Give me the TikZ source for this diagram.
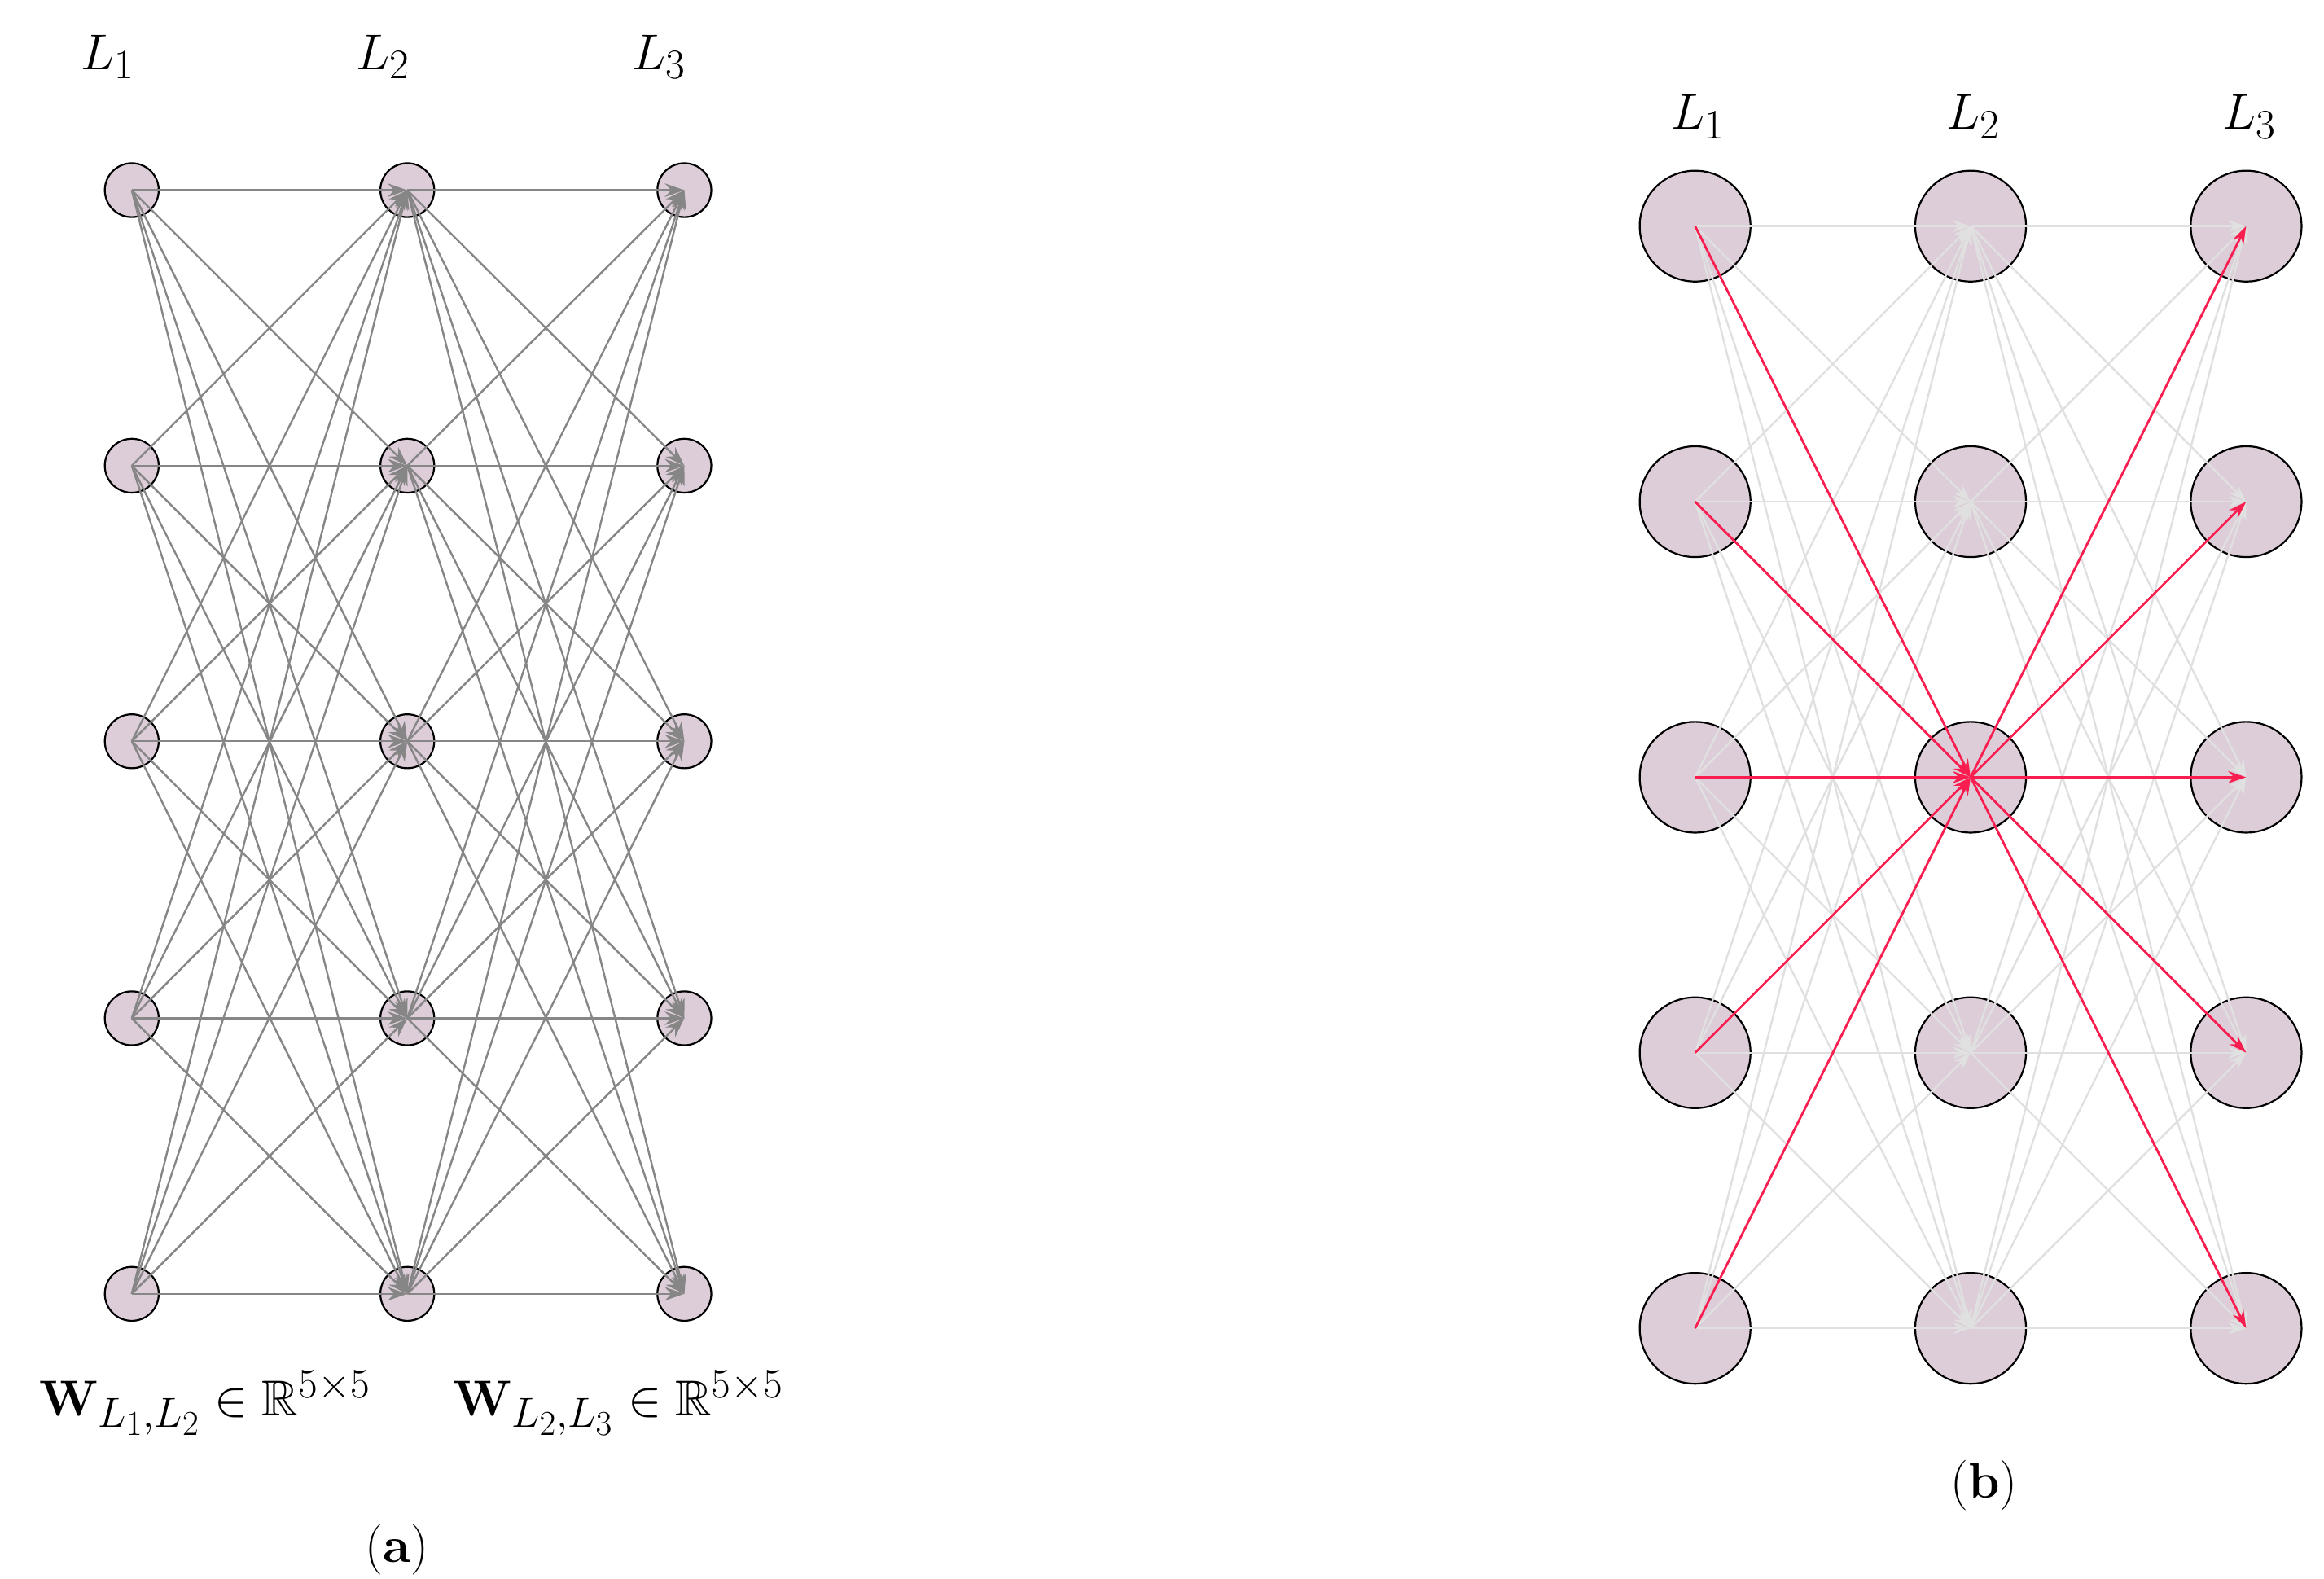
\documentclass[tikz,border=0pt]{standalone}
\usepackage{amsmath,amssymb}
\usetikzlibrary{arrows.meta}
\definecolor{nfill}{RGB}{220,205,216}
\definecolor{hot}{RGB}{250,30,80}
\begin{document}
\begin{tikzpicture}[x=1pt,y=-1pt,
  sn/.style={circle,draw=black,line width=1.2pt,fill=nfill,minimum size=36pt,inner sep=0pt},
  bn/.style={circle,draw=black,line width=1.2pt,fill=nfill,minimum size=74pt,inner sep=0pt},
  ga/.style={draw=gray!95,line width=1.3pt,-{Stealth[length=13pt,width=9pt]}},
  la/.style={draw=black!12,line width=1.3pt,-{Stealth[length=12pt,width=8pt]}},
  ra/.style={draw=hot,line width=1.5pt,-{Stealth[length=12pt,width=8pt]}},
  lab/.style={font=\Huge,scale=1.35}]
\useasboundingbox (0,0) rectangle (1552,1054);
% panel a
\foreach \c/\x in {1/88,2/272,3/457}{
  \foreach \r/\y in {1/127,2/311,3/495,4/680,5/864}{
    \node[sn] (a\c\r) at (\x,\y) {};}}
\foreach \i in {1,...,5}{\foreach \j in {1,...,5}{
  \draw[ga] (a1\i.center) -- (a2\j.center);
  \draw[ga] (a2\i.center) -- (a3\j.center);}}
\node[lab] (al1) at (72,38) {$L_1$};
\node[lab] (al2) at (256,38) {$L_2$};
\node[lab] (al3) at (440,38) {$L_3$};
\node[lab] (w1) at (137,937) {$\mathbf{W}_{L_1,L_2}\in\mathbb{R}^{5\times5}$};
\node[lab] (w2) at (413,937) {$\mathbf{W}_{L_2,L_3}\in\mathbb{R}^{5\times5}$};
\node[lab] (ca) at (265,1035) {(\textbf{a})};
% panel b
\foreach \c/\x in {1/1132,2/1316,3/1500}{
  \foreach \r/\y in {1/151,2/335,3/519,4/703,5/887}{
    \node[bn] (b\c\r) at (\x,\y) {};}}
\foreach \i in {1,...,5}{\foreach \j in {1,...,5}{
  \draw[la] (b1\i.center) -- (b2\j.center);
  \draw[la] (b2\i.center) -- (b3\j.center);}}
\foreach \i in {1,...,5}{
  \draw[ra] (b1\i.center) -- (b23.center);
  \draw[ra] (b23.center) -- (b3\i.center);}
\node[lab] (bl1) at (1134,78) {$L_1$};
\node[lab] (bl2) at (1318,78) {$L_2$};
\node[lab] (bl3) at (1502,78) {$L_3$};
\node[lab] (cb) at (1325,992) {(\textbf{b})};
\end{tikzpicture}
\end{document}
